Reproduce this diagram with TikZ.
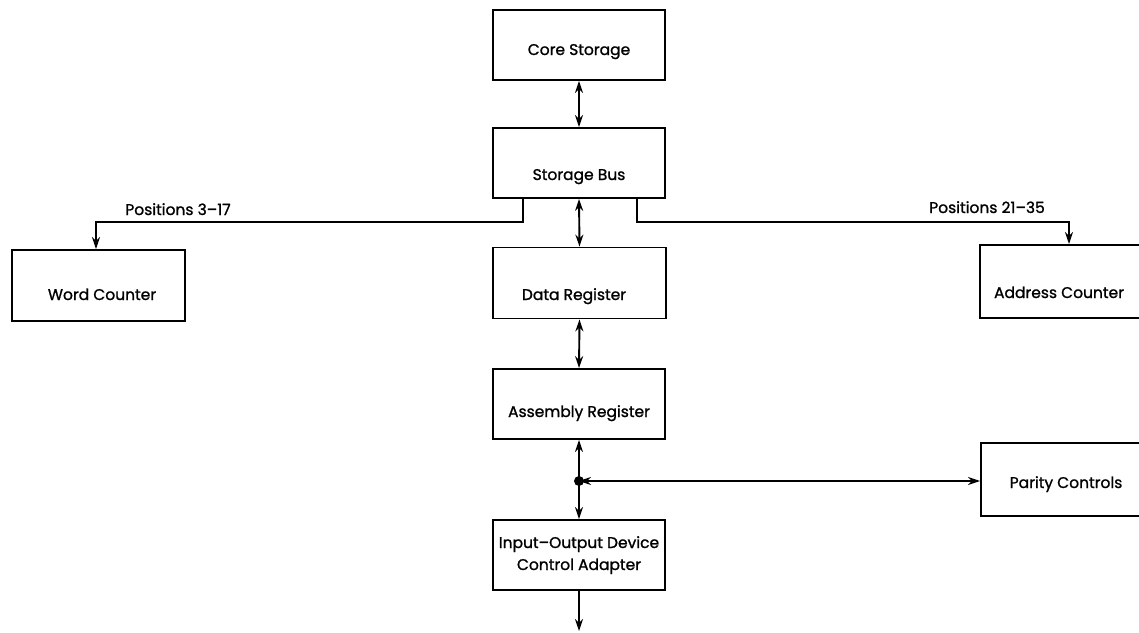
\documentclass[tikz,border=0pt]{standalone}
\usepackage{fontspec}
\setmainfont{Poppins}
\newfontfamily\lblfont{Poppins}[FakeBold=1.2]
\usetikzlibrary{arrows.meta}
\begin{document}
\begin{tikzpicture}[x=1pt,y=-1pt,
  box/.style={draw, line width=1.9pt, inner sep=0pt},
  lbl/.style={font=\lblfont\fontsize{15.5}{18}\selectfont, anchor=base, inner sep=0pt},
  conn/.style={line width=1.9pt, -{Stealth[length=12pt,width=8pt]}},
  biconn/.style={line width=1.9pt, {Stealth[length=12pt,width=8pt]}-{Stealth[length=12pt,width=8pt]}}]
\useasboundingbox (0,0) rectangle (1139,632);
% boxes
\node[box, minimum width=172pt, minimum height=70pt] (core) at (579,45) {};
\node[box, minimum width=172pt, minimum height=70pt] (bus) at (579,163) {};
\node[box, minimum width=173pt, minimum height=71pt] (data) at (579.5,283) {};
\node[box, minimum width=172pt, minimum height=70pt] (asm) at (579,404) {};
\node[box, minimum width=172pt, minimum height=70pt] (io) at (579,555) {};
\node[box, minimum width=173pt, minimum height=71pt] (word) at (98.5,285.5) {};
\node[box, minimum width=180pt, minimum height=73pt] (addr) at (1070,281.5) {};
\node[box, minimum width=180pt, minimum height=73pt] (parity) at (1071,479.5) {};
% labels
\node[lbl] (tcore) at (579,55) {Core Storage};
\node[lbl] (tbus) at (579,180) {Storage Bus};
\node[lbl] (tdata) at (574,300) {Data Register};
\node[lbl] (tasm) at (579,417) {Assembly Register};
\node[lbl] (tio1) at (579,548) {Input–Output Device};
\node[lbl] (tio2) at (579,570) {Control Adapter};
\node[lbl] (tword) at (102,300) {Word Counter};
\node[lbl] (taddr) at (1059,298) {Address Counter};
\node[lbl] (tpar) at (1066,488) {Parity Controls};
\node[lbl] (tp1) at (178,215) {Positions 3–17};
\node[lbl] (tp2) at (987,213) {Positions 21–35};
% coordinates
\coordinate (bl) at (523,198);
\coordinate (br) at (637,198);
\coordinate (wl) at (96,222);
\coordinate (ar) at (1069,222);
\coordinate (dot) at (579,481);
\coordinate (out) at (579,631);
% connectors
\draw[biconn] (core.south) -- (bus.north);
\draw[biconn] (bus.south) -- (data.north);
\draw[biconn] (data.south) -- (asm.north);
\draw[conn] (bl) |- (wl) -- (wl |- word.north);
\draw[conn] (br) |- (ar) -- (ar |- addr.north);
\draw[conn] (dot) -- (asm.south);
\draw[conn] (dot) -- (io.north);
\draw[biconn] (dot) -- (dot -| parity.west);
\fill (dot) circle (5pt);
\draw[conn] (io.south) -- (out);
\end{tikzpicture}
\end{document}
